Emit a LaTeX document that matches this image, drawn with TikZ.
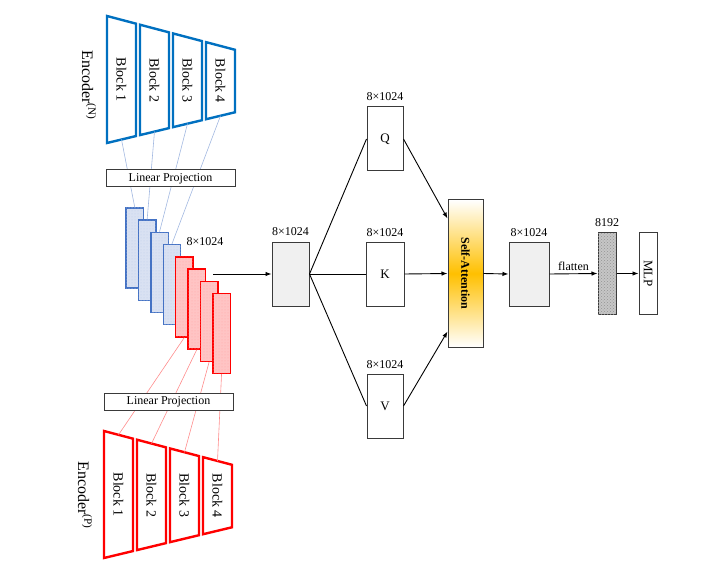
\documentclass[tikz,border=0pt]{standalone}
\usepackage{fontspec}
\setmainfont{Liberation Serif}
\usetikzlibrary{arrows.meta, positioning, patterns}
\definecolor{EncBlue}{HTML}{0070C0}
\definecolor{FeatBlue}{HTML}{4472C4}
\definecolor{FeatBlueFill}{HTML}{D9E1F2}
\definecolor{EncRed}{HTML}{FF0000}
\definecolor{FeatRedFill}{HTML}{FFC4C4}
\definecolor{AttnOrange}{HTML}{FFC000}
\definecolor{BoxGray}{HTML}{F0F0F0}
\definecolor{EdgeGray}{HTML}{3A3A3A}

\tikzset{
  encN/.style={draw=EncBlue, line width=2.4pt},
  encP/.style={draw=EncRed, line width=2.4pt},
  blocktext/.style={rotate=-90, font=\fontsize{14}{16}\selectfont, inner sep=0pt},
  enctext/.style={rotate=-90, font=\fontsize{16}{18}\selectfont, inner sep=0pt},
  featN/.style={draw=FeatBlue, fill=FeatBlueFill, line width=1.4pt, minimum width=17.5pt,
                minimum height=80pt, inner sep=0pt, postaction={pattern=dots, pattern color=FeatBlue!35}},
  featP/.style={draw=EncRed, fill=FeatRedFill, line width=1.4pt, minimum width=17.5pt,
                minimum height=80pt, inner sep=0pt, postaction={pattern=dots, pattern color=EncRed!35}},
  linkN/.style={draw=FeatBlue!50, line width=0.6pt},
  linkP/.style={draw=EncRed!45, line width=0.6pt},
  projbox/.style={draw=EdgeGray, fill=white, line width=1pt, minimum width=129pt,
                  minimum height=17pt, inner sep=0pt, font=\fontsize{12}{14}\selectfont},
  mapbox/.style={draw=EdgeGray, line width=1pt, minimum width=37pt, minimum height=64pt,
                 inner sep=0pt, font=\fontsize{13}{15}\selectfont},
  dimtext/.style={font=\fontsize{12}{14}\selectfont, inner sep=1pt},
  arr/.style={-{Latex[length=6pt,width=4.5pt]}, line width=0.9pt},
}

\begin{document}
\begin{tikzpicture}[x=1pt, y=-1pt]
\useasboundingbox (0,0) rectangle (712,580);

% stacked feature maps
\foreach \i in {1,...,4}{
  \node[featN] (f\i) at ({134.75+12.4*(\i-1)},{248+12.2*(\i-1)}) {};
}
\foreach \i in {5,...,8}{
  \node[featP] (f\i) at ({134.75+12.4*(\i-1)},{248+12.2*(\i-1)}) {};
}

% encoder N
\foreach \k in {1,...,4}{
  \pgfmathsetmacro{\xl}{107+33*(\k-1)}
  \pgfmathsetmacro{\xr}{\xl+29}
  \pgfmathsetmacro{\xm}{\xl+14.5}
  \draw[encN] (\xl,{16+0.264*(\xl-107)}) -- (\xr,{16+0.264*(\xr-107)})
    -- (\xr,{143-0.24*(\xr-107)}) -- (\xl,{143-0.24*(\xl-107)}) -- cycle;
  \node[blocktext] (bn\k) at (\xm,{79.5+0.012*(\xm-107)}) {Block \k};
  \coordinate (bn\k b) at (\xm,{143-0.24*(\xm-107)});
  \draw[linkN] (bn\k b) -- (f\k.north);
}

% encoder P
\foreach \k in {1,...,4}{
  \pgfmathsetmacro{\xl}{104+33*(\k-1)}
  \pgfmathsetmacro{\xr}{\xl+29}
  \pgfmathsetmacro{\xm}{\xl+14.5}
  \pgfmathtruncatemacro{\j}{\k+4}
  \draw[encP] (\xl,{431+0.264*(\xl-104)}) -- (\xr,{431+0.264*(\xr-104)})
    -- (\xr,{558-0.24*(\xr-104)}) -- (\xl,{558-0.24*(\xl-104)}) -- cycle;
  \node[blocktext] (bp\k) at (\xm,{494.5+0.012*(\xm-104)}) {Block \k};
  \coordinate (bp\k t) at (\xm,{431+0.264*(\xm-104)});
  \draw[linkP] (f\j.south) -- (bp\k t);
}

\node[projbox] (projN) at (170.5,178.5) {Linear Projection};
\node[projbox] (projP) at (168.5,402) {Linear Projection};
\node[enctext] (encN) at (89,85) {Encoder\textsuperscript{(N)}};
\node[enctext] (encP) at (85,495) {Encoder\textsuperscript{(P)}};

% attention part
\coordinate (fout) at (213,274);
\node[dimtext] (fdim) at (205,242) {8×1024};
\node[mapbox, fill=BoxGray] (A) at (290.5,274) {};
\node[dimtext, above=5pt of A] (adim) {8×1024};
\node[mapbox, minimum width=36pt] (Q) at (385,139) {Q};
\node[dimtext, above=5pt of Q] (qdim) {8×1024};
\node[mapbox, minimum width=38pt] (K) at (385,274) {K};
\node[dimtext, above=4pt of K] (kdim) {8×1024};
\node[mapbox, minimum width=36pt] (V) at (385,406) {V};
\node[dimtext, above=4pt of V] (vdim) {8×1024};
\node[mapbox, minimum width=35pt, minimum height=147pt, top color=white, bottom color=white,
      middle color=AttnOrange, font=\bfseries\fontsize{12}{14}\selectfont] (SA) at (465.5,273.5)
      {\rotatebox{-90}{Self-Attention}};
\node[mapbox, minimum width=40pt, fill=BoxGray] (B) at (529,274) {};
\node[dimtext, above=4pt of B] (bdim) {8×1024};
\node[mapbox, minimum width=18pt, minimum height=81pt, fill=gray!45,
      postaction={pattern=crosshatch dots, pattern color=gray!85}] (D) at (607,273.5) {};
\node[dimtext, above=5pt of D] (ddim) {8192};
\node[mapbox, minimum width=18pt, minimum height=81pt] (MLP) at (648,273.5) {\rotatebox{-90}{MLP}};

\draw[arr] (fout) -- (A.west);
\draw[line width=0.9pt] (A.east) -- (Q.west);
\draw[line width=0.9pt] (A.east) -- (K.west);
\draw[line width=0.9pt] (A.east) -- (V.west);
\draw[arr] (Q.east) -- ([yshift=55pt]SA.west);
\draw[arr] (K.east) -- (SA.west);
\draw[arr] (V.east) -- ([yshift=-58pt]SA.west);
\draw[arr] (SA.east) -- (B.west);
\draw[arr] (B.east) -- node[above, dimtext, inner sep=3pt] (fl) {flatten} (D.west);
\draw[arr] (D.east) -- (MLP.west);
\end{tikzpicture}
\end{document}
